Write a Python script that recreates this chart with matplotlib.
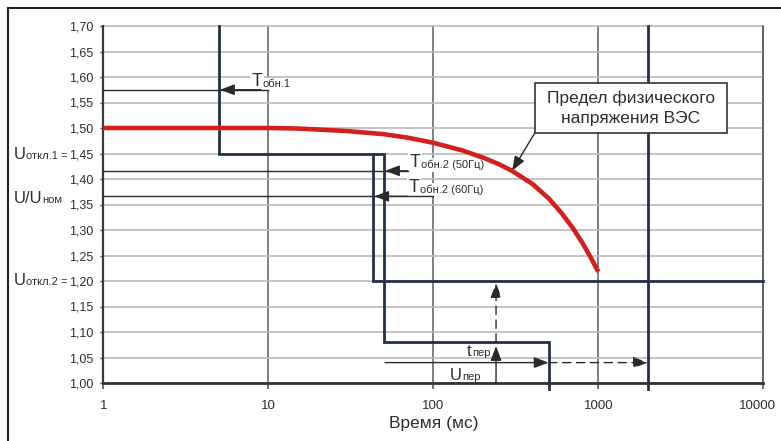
import numpy as np
import matplotlib
matplotlib.use("Agg")
import matplotlib.pyplot as plt
from matplotlib.patches import Rectangle
from matplotlib.lines import Line2D
from matplotlib.transforms import ScaledTranslation

# ---------------------------------------------------------------------------
# Data
# ---------------------------------------------------------------------------
# Physical voltage limit of the wind turbine: time (ms) vs U/Unom
limit_time_ms = [1, 10, 15, 20, 30, 50, 70, 100, 150, 200, 250, 300, 400, 500,
                 600, 700, 800, 900, 1000]
limit_u = [1.500, 1.500, 1.499, 1.497, 1.494, 1.488, 1.481, 1.471, 1.456, 1.442,
           1.429, 1.416, 1.390, 1.362, 1.333, 1.304, 1.275, 1.246, 1.218]

# Protection settings
u_trip1 = 1.45          # Uоткл.1
u_trip2 = 1.20          # Uоткл.2
u_top = 1.70
u_low_step = 1.08
t_trip1 = 5             # Tобн.1, ms
t_trip2_50hz = 50       # Tобн.2 (50 Гц), ms
t_trip2_60hz = 43       # Tобн.2 (60 Гц), ms
t_low_step_end = 500
t_limit = 2000
t_axis_end = 10000

# Trip characteristic polylines
step_50_t = [t_trip1, t_trip1, t_trip2_50hz, t_trip2_50hz, t_low_step_end, t_low_step_end]
step_50_u = [u_top, u_trip1, u_trip1, u_low_step, u_low_step, 0.988]
step_60_t = [t_trip2_60hz, t_trip2_60hz, t_axis_end]
step_60_u = [u_trip1, u_trip2, u_trip2]
limit_line_t = [t_limit, t_limit]
limit_line_u = [u_top, 0.988]

# Leader levels for the time labels
u_lead_t1 = 1.575
u_lead_50 = 1.416
u_lead_60 = 1.366
u_per = 1.04
t_per = 240

# Axis ticks
x_ticks = [1, 10, 100, 1000, 10000]
x_tick_labels = ["1", "10", "100", "1000", "10000"]
y_ticks = [1.00, 1.05, 1.10, 1.15, 1.20, 1.25, 1.30, 1.35, 1.40, 1.45,
           1.50, 1.55, 1.60, 1.65, 1.70]
y_tick_labels = ["1,00", "1,05", "1,10", "1,15", "1,20", "1,25", "1,30", "1,35",
                 "1,40", "1,45", "1,50", "1,55", "1,60", "1,65", "1,70"]

# ---------------------------------------------------------------------------
# Style
# ---------------------------------------------------------------------------
plt.rcParams["font.family"] = ["Liberation Sans", "DejaVu Sans"]
NAVY = "#243049"
RED = "#d3201f"
INK = "#2e2e2e"
ARROW = "#2a2a2a"

W, H = 781, 441
fig = plt.figure(figsize=(W / 100, H / 100), dpi=100)
ax_l, ax_r, ax_t, ax_b = 103.3, 763.3, 26.0, 383.0
ax = fig.add_axes([ax_l / W, 1 - ax_b / H, (ax_r - ax_l) / W, (ax_b - ax_t) / H])

ax.set_xscale("log")
ax.set_xlim(1, 10000)
ax.set_ylim(1.0, 1.70)

ax.set_xticks(x_ticks)
ax.set_xticklabels(x_tick_labels, fontsize=9.5, color=INK)
ax.xaxis.set_minor_locator(matplotlib.ticker.NullLocator())
ax.set_yticks(y_ticks)
ax.set_yticklabels(y_tick_labels, fontsize=9, color=INK)
ax.tick_params(axis="x", length=4, width=1.1, color="#4a4a4a", pad=8)
ax.tick_params(axis="y", length=2.5, width=1.0, color="#4a4a4a", pad=4.5)
last = ax.get_xticklabels()[-1]
last.set_transform(last.get_transform() + ScaledTranslation(-4 / 72, 0, fig.dpi_scale_trans))

ax.grid(axis="y", color="#bababa", lw=1.2, zorder=0)
ax.grid(axis="x", which="major", color="#5c5c5c", lw=1.1, zorder=0)
for gl in ax.get_ygridlines() + ax.get_xgridlines():
    gl.set_clip_on(False)
ax.set_axisbelow(True)

ax.spines["top"].set_visible(False)
ax.spines["right"].set_color("#5c5c5c")
ax.spines["right"].set_linewidth(1.1)
ax.spines["left"].set_color("#3a3a3a")
ax.spines["left"].set_linewidth(1.6)
ax.spines["bottom"].set_color("#333333")
ax.spines["bottom"].set_linewidth(2.0)

ax.set_xlabel("Время (мс)", fontsize=12.5, color=INK, labelpad=3)

# ---------------------------------------------------------------------------
# Curves
# ---------------------------------------------------------------------------
ax.plot(limit_time_ms, limit_u, color=RED, lw=3.3, solid_capstyle="butt",
        solid_joinstyle="round", zorder=6)
ax.plot(step_50_t, step_50_u, color=NAVY, lw=2.0, zorder=5, clip_on=False,
        solid_joinstyle="miter")
ax.plot(step_60_t, step_60_u, color=NAVY, lw=2.0, zorder=5, clip_on=False,
        solid_joinstyle="miter")
ax.plot(limit_line_t, limit_line_u, color=NAVY, lw=2.0, zorder=5, clip_on=False)

# ---------------------------------------------------------------------------
# Arrows and leader lines
# ---------------------------------------------------------------------------
HEAD = "-|>,head_length=0.8,head_width=0.3"


def arrow(x0, y0, x1, y1, ls="-", shrink=0.0, coords="data"):
    ax.annotate("", xy=(x1, y1), xytext=(x0, y0), textcoords=coords,
                arrowprops=dict(arrowstyle=HEAD, mutation_scale=11, shrinkA=0,
                                shrinkB=shrink, color=ARROW, lw=1.0, linestyle=ls),
                zorder=5)


def lead(x0, x1, y):
    ax.plot([x0, x1], [y, y], color=ARROW, lw=1.0, zorder=5)


lead(1, 10, u_lead_t1)
arrow(9, u_lead_t1, t_trip1, u_lead_t1, shrink=1)
lead(1, 70, u_lead_50)
arrow(70, u_lead_50, t_trip2_50hz, u_lead_50, shrink=1)
lead(1, 100, u_lead_60)
arrow(70, u_lead_60, t_trip2_60hz, u_lead_60, shrink=1)

DASH = (0, (6, 4))
arrow(51, u_per, t_low_step_end, u_per)
arrow(t_low_step_end, u_per, t_limit, u_per, ls=DASH)
arrow(t_per, 1.0, t_per, 1.0725)
arrow(t_per, u_low_step, t_per, 1.196, ls=DASH)

# ---------------------------------------------------------------------------
# Labels
# ---------------------------------------------------------------------------
WHITE_BOX = dict(facecolor="white", edgecolor="none", pad=1.2)


def sub_text(x, y, big, small, transform=None, big_size=13, small_size=8,
             box=False, z=4):
    bb = WHITE_BOX if box else None
    t_big = ax.text(x, y, big, transform=transform or ax.transData,
                    fontsize=big_size, color=INK, ha="left",
                    va="baseline", bbox=bb, zorder=z)
    ax.annotate(small, xy=(1, 0), xycoords=t_big, xytext=(0.4, 0.7),
                textcoords="offset points", fontsize=small_size,
                color=INK, ha="left", va="bottom", bbox=bb, zorder=z)


sub_text(7.9, 1.582, "T", "обн.1", box=True)
sub_text(72, 1.423, "T", "обн.2 (50Гц)", box=True)
sub_text(70.5, 1.375, "T", "обн.2 (60Гц)", box=True)
sub_text(160, 1.053, "t", "пер", big_size=12)
sub_text(125, 1.006, "U", "пер", big_size=12)

yx = ax.get_yaxis_transform()
sub_text(-0.136, 1.4386, "U", "откл.1 =", transform=yx, big_size=12, small_size=8)
sub_text(-0.136, 1.353, "U/U", "ном", transform=yx, big_size=12, small_size=8)
sub_text(-0.136, 1.1922, "U", "откл.2 =", transform=yx, big_size=12, small_size=8)

# Callout box for the physical limit curve
bx0, by0, bw, bh = 0.654, 0.701, 0.2905, 0.1385
ax.add_patch(Rectangle((bx0, by0), bw, bh, transform=ax.transAxes,
                       facecolor="white", edgecolor="#333333", lw=1.2, zorder=7))
ax.text(bx0 + bw / 2, by0 + bh / 2, "Предел физического\nнапряжения ВЭС",
        transform=ax.transAxes, ha="center", va="center", fontsize=12.5,
        linespacing=1.45, color=INK, zorder=8)
tip_t = 300
tip_u = np.interp(np.log10(tip_t), np.log10(limit_time_ms), limit_u)
arrow(bx0, by0, tip_t, tip_u, coords="axes fraction")

# Outer frame
fig.add_artist(Line2D([8 / W, 8 / W], [0, 1 - 8 / H], color="#222222", lw=1.5))
fig.add_artist(Line2D([8 / W, 1], [1 - 8 / H, 1 - 8 / H], color="#222222", lw=1.5))

fig.savefig("out.png", dpi=100)
